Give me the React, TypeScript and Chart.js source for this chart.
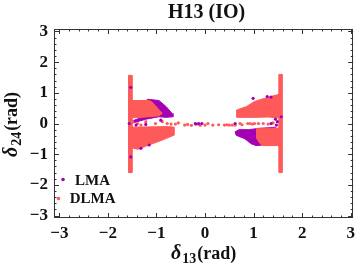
import React, { useEffect, useRef } from 'react';
import { Chart, registerables } from 'chart.js';

Chart.register(...registerables);

// ---------------- data ----------------
const TITLE = 'H13 (IO)';
const SERIES = ['LMA', 'DLMA'];
const LMA_COLOR = '#A300B5';
const DLMA_COLOR = '#FF5A5A';
const X_TICKS = [-3, -2, -1, 0, 1, 2, 3];
const Y_TICKS = [-3, -2, -1, 0, 1, 2, 3];
const X_RANGE = [-3.11, 3.05];
const Y_RANGE = [-3.08, 3.08];

// dense clouds, traced as outlines [x, y]
const LMA_UPPER_LEFT: number[][] = [
  [-1.19, 0.79], [-0.95, 0.75], [-0.8, 0.55], [-0.68, 0.33], [-0.66, 0.22], [-0.8, 0.2],
  [-0.95, 0.22], [-1.22, 0.14], [-1.46, 0.03], [-1.56, -0.02], [-1.49, 0.09], [-1.26, 0.22],
  [-1.22, 0.44],
];
const LMA_LOWER_RIGHT: number[][] = [
  [0.62, -0.27], [0.7, -0.2], [0.9, -0.2], [1.1, -0.16], [1.3, -0.14], [1.45, -0.12],
  [1.5, -0.3], [1.5, -0.65], [1.2, -0.7], [1.05, -0.72], [0.95, -0.66], [0.82, -0.5],
  [0.7, -0.42], [0.64, -0.38],
];
const DLMA_LEFT_BAR: number[][] = [[-1.575, 1.57], [-1.505, 1.57], [-1.505, -1.6], [-1.575, -1.6]];
const DLMA_RIGHT_BAR: number[][] = [[1.52, 1.6], [1.585, 1.6], [1.585, -1.6], [1.52, -1.6]];
const DLMA_UPPER_LEFT: number[][] = [
  [-1.57, 0.75], [-1.15, 0.75], [-1.09, 0.7], [-0.88, 0.33], [-0.95, 0.25], [-1.22, 0.21],
  [-1.56, 0.18],
];
const DLMA_LOWER_LEFT: number[][] = [
  [-1.57, -0.12], [-0.75, -0.1], [-0.64, -0.12], [-0.64, -0.38], [-0.88, -0.54],
  [-1.22, -0.74], [-1.38, -0.84], [-1.5, -0.8], [-1.57, -0.78],
];
const DLMA_UPPER_RIGHT: number[][] = [
  [0.65, 0.44], [0.85, 0.55], [1.02, 0.72], [1.23, 0.82], [1.4, 0.9], [1.53, 0.95],
  [1.53, 0.18], [1.3, 0.21], [1.02, 0.2], [0.65, 0.2],
];
const DLMA_LOWER_RIGHT: number[][] = [
  [1.06, -0.16], [1.53, -0.15], [1.53, -0.72], [1.19, -0.72], [1.13, -0.65],
  [1.06, -0.48], [1.06, -0.32],
];

// sparse points
const LMA_POINTS: number[][] = [
  [-1.56, 0.0], [-1.42, -0.05], [-1.22, -0.03], [-0.91, 0.11], [-1.53, 1.18], [-1.53, -1.09],
  [-1.32, -0.81], [-1.15, -0.7], [-0.2, 0.0], [-0.13, 0.0], [-0.19, -0.02], [-0.065, 0.0],
  [0.62, 0.0], [1.36, 0.0], [0.99, 0.82], [1.36, 0.86], [1.28, 0.88], [1.45, 0.14],
  [1.49, 0.06], [1.47, -0.05], [1.57, 0.22],
];
const DLMA_POINTS: number[][] = [
  [-1.49, 0.06], [-1.39, 0.0], [-1.32, -0.05], [-1.22, 0.06], [-1.02, 0.0], [-0.88, 0.06],
  [-0.78, 0.0], [-0.7, -0.02], [-0.61, -0.02], [-0.55, 0.02], [-0.42, -0.05], [-0.36, -0.03],
  [-0.28, -0.06], [-0.14, -0.02], [-0.1, -0.06], [0.0, -0.05], [0.06, 0.0], [0.16, -0.05],
  [0.28, -0.04], [0.4, -0.05], [0.45, -0.04], [0.5, -0.05], [0.56, -0.05], [0.62, -0.05],
  [0.72, 0.0], [0.76, -0.04], [0.88, 0.0], [0.93, 0.0], [0.98, -0.02], [1.02, 0.0],
  [1.1, 0.0], [1.2, 0.0], [1.3, -0.02], [1.4, 0.02],
];

// ---------------- helpers ----------------
const toXY = (arr: number[][]) => arr.map(([x, y]) => ({ x, y }));
const closed = (arr: number[][]) => toXY([...arr, arr[0]]);
const fmt = (v: number) => (v < 0 ? '\u2212' + Math.abs(v) : String(v));
const FONT = '"Liberation Serif", "Times New Roman", serif';

const region = (label: string, pts: number[][], color: string, order: number) => ({
  label,
  data: closed(pts),
  showLine: true,
  fill: 'shape',
  backgroundColor: color,
  borderColor: color,
  borderWidth: 1,
  pointRadius: 0,
  pointHoverRadius: 0,
  tension: 0,
  order,
});
const dots = (label: string, pts: number[][], color: string, order: number) => ({
  label,
  data: toXY(pts),
  showLine: false,
  backgroundColor: color,
  borderColor: color,
  borderWidth: 0,
  pointRadius: 1.6,
  order,
});

const decor = {
  id: 'decor',
  afterDraw(chart: any) {
    const { ctx, chartArea: a, scales } = chart;
    const xs = scales.x;
    const ys = scales.y;
    ctx.save();
    ctx.strokeStyle = '#333';
    ctx.lineWidth = 1;
    ctx.strokeRect(Math.round(a.left) + 0.5, Math.round(a.top) + 0.5,
      Math.round(a.right - a.left) - 1, Math.round(a.bottom - a.top) - 1);
    ctx.beginPath();
    for (let i = -15; i <= 15; i++) {
      const v = i / 5;
      const len = i % 5 === 0 ? 5 : 2.5;
      const px = Math.round(xs.getPixelForValue(v)) + 0.5;
      if (px > a.left && px < a.right) {
        ctx.moveTo(px, a.bottom); ctx.lineTo(px, a.bottom - len);
        ctx.moveTo(px, a.top); ctx.lineTo(px, a.top + len);
      }
      const py = Math.round(ys.getPixelForValue(v)) + 0.5;
      if (py > a.top && py < a.bottom) {
        ctx.moveTo(a.left, py); ctx.lineTo(a.left + len, py);
        ctx.moveTo(a.right, py); ctx.lineTo(a.right - len, py);
      }
    }
    ctx.stroke();

    ctx.fillStyle = '#111';
    // title
    ctx.font = `bold 20px ${FONT}`;
    ctx.textAlign = 'center';
    ctx.textBaseline = 'alphabetic';
    ctx.fillText(TITLE, (a.left + a.right) / 2 + 3, 18);

    const drawAxisTitle = (sub: string, cx: number, cy: number, rot: number) => {
      ctx.save();
      ctx.translate(cx, cy);
      ctx.rotate(rot);
      ctx.textAlign = 'left';
      const big = `bold 18px ${FONT}`;
      const delta = `italic bold 20px ${FONT}`;
      const small = `bold 14px ${FONT}`;
      ctx.font = delta; const w1 = ctx.measureText('\u03B4').width + 1;
      ctx.font = small; const w2 = ctx.measureText(sub).width + 1;
      ctx.font = big; const w3 = ctx.measureText('(rad)').width;
      let x0 = -(w1 + w2 + w3) / 2;
      ctx.font = delta; ctx.fillText('\u03B4', x0, 0); x0 += w1;
      ctx.font = small; ctx.fillText(sub, x0, 4); x0 += w2;
      ctx.font = big; ctx.fillText('(rad)', x0, 0);
      ctx.restore();
    };
    drawAxisTitle('13', (a.left + a.right) / 2, 259, 0);
    drawAxisTitle('24', 17, (a.top + a.bottom) / 2 + 1, -Math.PI / 2);

    // legend
    const legend = [
      { name: SERIES[0], color: LMA_COLOR, dx: 63, dy: 179.5, ty: 181 },
      { name: SERIES[1], color: DLMA_COLOR, dx: 58.5, dy: 198.5, ty: 199.5 },
    ];
    ctx.font = `bold 15px ${FONT}`;
    ctx.textAlign = 'center';
    ctx.textBaseline = 'middle';
    for (const l of legend) {
      ctx.fillStyle = l.color;
      ctx.beginPath(); ctx.arc(l.dx, l.dy, 1.8, 0, Math.PI * 2); ctx.fill();
      ctx.fillStyle = '#111';
      ctx.fillText(l.name, 92.6, l.ty);
    }
    ctx.restore();
  },
};

export default function App() {
  const ref = useRef<HTMLCanvasElement | null>(null);
  useEffect(() => {
    if (!ref.current) return;
    const datasets: any[] = [
      region(SERIES[0], LMA_UPPER_LEFT, LMA_COLOR, 3),
      region(SERIES[0], LMA_LOWER_RIGHT, LMA_COLOR, 3),
      region(SERIES[1], DLMA_LEFT_BAR, DLMA_COLOR, 2),
      region(SERIES[1], DLMA_RIGHT_BAR, DLMA_COLOR, 2),
      region(SERIES[1], DLMA_UPPER_LEFT, DLMA_COLOR, 2),
      region(SERIES[1], DLMA_LOWER_LEFT, DLMA_COLOR, 2),
      region(SERIES[1], DLMA_UPPER_RIGHT, DLMA_COLOR, 2),
      region(SERIES[1], DLMA_LOWER_RIGHT, DLMA_COLOR, 2),
      dots(SERIES[1], DLMA_POINTS, DLMA_COLOR, 1),
      dots(SERIES[0], LMA_POINTS, LMA_COLOR, 0),
    ];
    const chart = new Chart(ref.current, {
      type: 'scatter',
      data: { datasets },
      options: {
        animation: false,
        responsive: false,
        devicePixelRatio: 1,
        layout: { padding: { left: 0, top: 29, right: 4, bottom: 0 } },
        plugins: { legend: { display: false }, title: { display: false }, tooltip: { enabled: false } },
        scales: {
          x: {
            type: 'linear',
            min: X_RANGE[0],
            max: X_RANGE[1],
            grid: { display: false, drawTicks: false },
            border: { display: false },
            afterBuildTicks: (s: any) => { s.ticks = X_TICKS.map((v) => ({ value: v })); },
            afterFit: (s: any) => { s.height = 53; },
            ticks: {
              padding: 5,
              maxRotation: 0,
              color: '#111',
              font: { family: FONT, size: 17, weight: 'bold' },
              callback: (v: any) => fmt(Number(v)),
            },
          },
          y: {
            type: 'linear',
            min: Y_RANGE[0],
            max: Y_RANGE[1],
            grid: { display: false, drawTicks: false },
            border: { display: false },
            afterBuildTicks: (s: any) => { s.ticks = Y_TICKS.map((v) => ({ value: v })); },
            afterFit: (s: any) => { s.width = 54; },
            ticks: {
              padding: 6,
              color: '#111',
              font: { family: FONT, size: 17, weight: 'bold' },
              callback: (v: any) => fmt(Number(v)),
            },
          },
        },
      } as any,
      plugins: [decor],
    });
    return () => chart.destroy();
  }, []);
  return (
    <div style={{ position: 'absolute', left: 0, top: 0, width: 360, height: 271, background: '#fff' }}>
      <canvas ref={ref} width={360} height={271} style={{ display: 'block' }} />
    </div>
  );
}
